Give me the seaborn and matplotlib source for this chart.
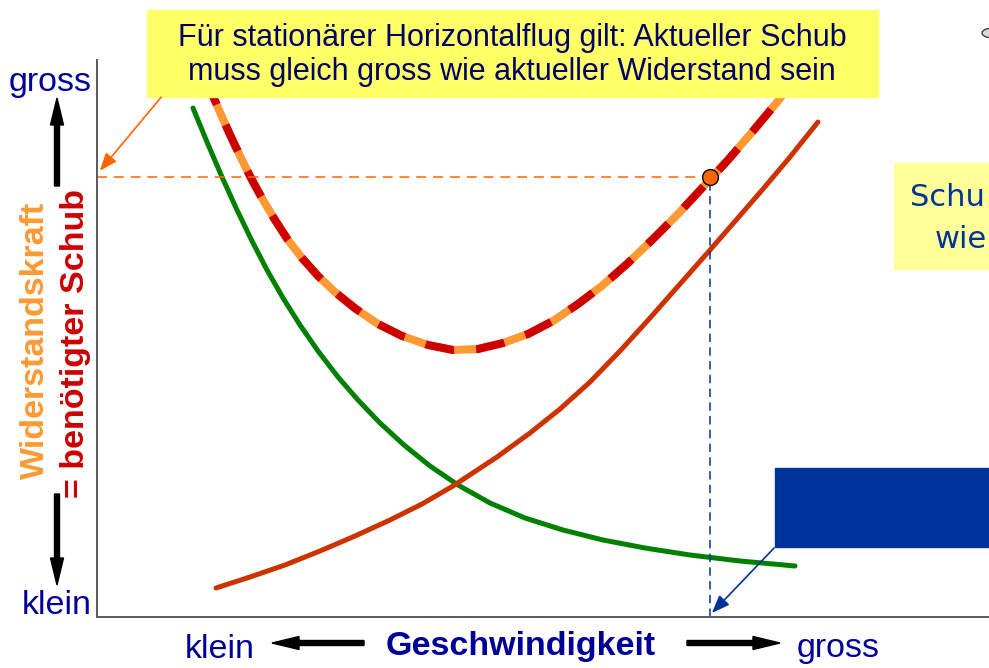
import matplotlib
matplotlib.use("Agg")
import matplotlib.pyplot as plt
import matplotlib.patches as mpatches
import pandas as pd
import seaborn as sns

# curve readings (speed units, force units; origin at the axes corner)
green_v = [96, 110, 125, 140, 155, 170, 186, 203, 221, 241, 261, 283, 307, 333, 361,
           393, 428, 466, 506, 548, 593, 643, 698]
green_f = [509, 475, 440, 407, 376, 347, 319, 292, 266, 240, 217, 194, 172, 151, 132,
           114, 99, 87, 77, 69, 62, 56, 51]

parasite_v = [119, 153, 188, 223, 258, 293, 325, 356, 400, 433, 463, 493, 523, 553,
              583, 613, 640, 666, 693, 721]
parasite_f = [29, 40, 52, 66, 81, 97, 113, 131, 160, 184, 208, 235, 266, 299,
              333, 367, 398, 428, 460, 495]

total_v = [108, 116, 125, 135, 145, 155, 166, 178, 191, 205, 221, 239, 259, 281, 305,
           331, 356, 381, 406, 431, 456, 481, 506, 531, 556, 581, 606, 631, 656, 681, 698]
total_f = [539, 521, 500, 478, 457, 437, 417, 397, 377, 359, 341, 324, 308, 293, 281,
           272, 267, 268, 274, 283, 296, 313, 332, 354, 378, 403, 430, 457, 486, 516, 538]

op_v = 613      # operating point speed
op_f = 440      # operating point drag / thrust

title_lines = ["Für stationärer Horizontalflug gilt: Aktueller Schub",
               "muss gleich gross wie aktueller Widerstand sein"]

sns.set_theme(style="white")
plt.rcParams["font.family"] = ["Liberation Sans", "DejaVu Sans"]

fig = plt.figure(figsize=(9.89, 6.68), dpi=100)
ax = fig.add_axes([97 / 989, 51 / 668, 892 / 989, 557 / 668])
ax.set_xlim(0, 892)
ax.set_ylim(0, 557)

df_g = pd.DataFrame({"v": green_v, "f": green_f})
df_p = pd.DataFrame({"v": parasite_v, "f": parasite_f})
df_t = pd.DataFrame({"v": total_v, "f": total_f})

sns.lineplot(data=df_g, x="v", y="f", ax=ax, color="#008000", lw=3.6)
sns.lineplot(data=df_p, x="v", y="f", ax=ax, color="#CC3300", lw=3.6)
sns.lineplot(data=df_t, x="v", y="f", ax=ax, color="#FF9933", lw=5.8)
sns.lineplot(data=df_t, x="v", y="f", ax=ax, color="#CC0000", lw=5.8)
ax.lines[-1].set_linestyle((0, (3.6, 2.75)))
for ln in ax.lines:
    ln.set_solid_joinstyle("round")
    ln.set_dash_joinstyle("round")

# helper lines to the operating point
ax.plot([0, op_v], [op_f, op_f], color="#FF6600", lw=1.1, ls=(0, (6.5, 4.5)))
ax.plot([op_v, op_v], [0, op_f], color="#003399", lw=1.1, ls=(0, (5.5, 3.5)))
sns.scatterplot(x=[op_v], y=[op_f], ax=ax, color="#FF6600", s=130,
                edgecolor="black", linewidth=1, zorder=5)

sns.despine(ax=ax)
for side in ["left", "bottom"]:
    ax.spines[side].set_color("#595959")
    ax.spines[side].set_linewidth(1.4)
ax.set_xticks([])
ax.set_yticks([])
ax.set_xlabel("")
ax.set_ylabel("")

# overlay in pixel units for boxes, labels and arrows
ov = fig.add_axes([0, 0, 1, 1])
ov.set_xlim(0, 989)
ov.set_ylim(668, 0)
ov.axis("off")

ov.add_patch(mpatches.Rectangle((147, 10), 731, 87, color="#FFFF66", zorder=3))
ov.text(512, 38, title_lines[0], ha="center", va="center", fontsize=22,
        color="#000066", zorder=4)
ov.text(512, 72, title_lines[1], ha="center", va="center", fontsize=22,
        color="#000066", zorder=4)

ov.add_patch(mpatches.Rectangle((894, 163), 120, 106, color="#FFFF99", zorder=3))
ov.text(910, 197, "Schu", ha="left", va="center", fontsize=22, color="#003399",
        family="DejaVu Sans", zorder=4)
ov.text(935, 240, "wie", ha="left", va="center", fontsize=22, color="#003399",
        family="DejaVu Sans", zorder=4)

ov.add_patch(mpatches.Rectangle((775, 468), 230, 79, color="#003399", zorder=3))
ov.add_patch(mpatches.Ellipse((993, 33), 22, 10, facecolor="#D9D9D9",
                              edgecolor="#404040", lw=1, zorder=3))

ov.annotate("", xy=(98, 173), xytext=(163, 95),
            arrowprops=dict(arrowstyle="-|>,head_length=0.9,head_width=0.35",
                            color="#FF6600", lw=1.2))
ov.annotate("", xy=(710, 615), xytext=(776, 546),
            arrowprops=dict(arrowstyle="-|>,head_length=0.9,head_width=0.35",
                            color="#003399", lw=1.2))

# axis words
navy = "#000099"
ov.text(92, 82, "gross", ha="right", va="center", fontsize=24.5, color=navy)
ov.text(92, 605, "klein", ha="right", va="center", fontsize=24.5, color=navy)
ov.text(220, 649, "klein", ha="center", va="center", fontsize=24.5, color=navy)
ov.text(838, 649, "gross", ha="center", va="center", fontsize=24.5, color=navy)
ov.text(521, 646, "Geschwindigkeit", ha="center", va="center", fontsize=24.5,
        color=navy, fontweight="bold")
ov.text(35, 340, "Widerstandskraft", ha="center", va="center", rotation=90,
        fontsize=24.5, color="#FF9933", fontweight="bold")
ov.text(76, 343, "= benötigter Schub", ha="center", va="center", rotation=90,
        fontsize=24.5, color="#CC0000", fontweight="bold")

# black direction arrows
arr = dict(width=5, head_width=13, head_length=27, length_includes_head=True,
           color="black")
ov.arrow(57, 186, 0, -88, **arr)
ov.arrow(57, 494, 0, 91, **arr)
ov.arrow(364, 643, -92, 0, **arr)
ov.arrow(687, 643, 93, 0, **arr)

fig.savefig("out.png", dpi=100)
